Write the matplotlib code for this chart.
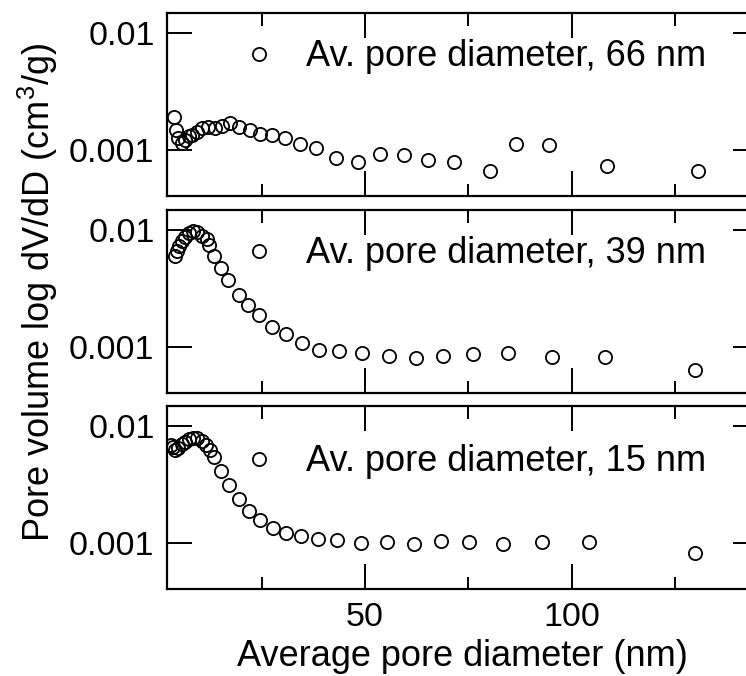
import numpy as np
import matplotlib
matplotlib.use('Agg')
import matplotlib.pyplot as plt
from matplotlib.ticker import NullLocator, MultipleLocator

plt.rcParams['font.family'] = ['Liberation Sans', 'DejaVu Sans']
plt.rcParams['mathtext.fontset'] = 'custom'
plt.rcParams['mathtext.rm'] = 'Liberation Sans'
plt.rcParams['mathtext.default'] = 'regular'

# 各样品的孔径分布 (nm, cm3/g)
d_66 = [3.8, 4.3, 4.8, 5.7, 6.5, 7.3, 8.2, 9.3, 10.5, 12.1, 13.7, 15.3, 17.3, 19.5,
        22.2, 24.6, 27.6, 30.7, 34.3, 38.1, 43.0, 48.2, 53.6, 59.4, 65.3, 71.4,
        80.1, 86.5, 94.4, 108.5, 130.5]
v_66 = [0.0019, 0.00148, 0.00126, 0.00114, 0.00122, 0.0013, 0.00134, 0.00141,
        0.00153, 0.00158, 0.00153, 0.0016, 0.0017, 0.00156, 0.00147, 0.00136,
        0.00134, 0.00126, 0.00112, 0.00103, 0.00085, 0.000785, 0.000924,
        0.000893, 0.00082, 0.000785, 0.00066, 0.00112, 0.0011, 0.00073, 0.00065]

d_39 = [4.0, 4.5, 5.0, 5.7, 6.5, 7.5, 8.5, 9.4, 10.5, 11.7, 12.3, 13.5, 15.2, 16.9,
        19.4, 21.8, 24.4, 27.6, 30.8, 34.7, 38.8, 43.6, 49.2, 55.7, 62.3, 68.8,
        76.0, 84.5, 95.2, 107.9, 129.7]
v_39 = [0.0060, 0.00665, 0.0073, 0.0081, 0.0088, 0.0094, 0.0099, 0.0097, 0.0089,
        0.0084, 0.0074, 0.0060, 0.0047, 0.00373, 0.00279, 0.00228, 0.00187,
        0.00148, 0.00129, 0.00107, 0.00094, 0.00091, 0.00088, 0.00083, 0.0008,
        0.00083, 0.00086, 0.00088, 0.00082, 0.00081, 0.000635]

d_15 = [3.0, 3.5, 4.0, 4.8, 5.7, 6.5, 7.5, 8.5, 9.4, 10.5, 11.5, 12.5, 13.5, 15.2,
        17.1, 19.5, 22.0, 24.6, 27.8, 30.9, 34.5, 38.7, 43.3, 49.0, 55.3, 61.9,
        68.3, 75.2, 83.3, 92.8, 104.2, 129.7]
v_15 = [0.00684, 0.0066, 0.0063, 0.00653, 0.00697, 0.00734, 0.00769, 0.0079,
        0.0079, 0.00744, 0.00684, 0.0062, 0.00543, 0.00411, 0.00312, 0.00239,
        0.00187, 0.00156, 0.00133, 0.00121, 0.00114, 0.00107, 0.00105, 0.001,
        0.00102, 0.00098, 0.00104, 0.00101, 0.00097, 0.00101, 0.00101, 0.00082]

series = [(d_66, v_66, 'Av. pore diameter, 66 nm'),
          (d_39, v_39, 'Av. pore diameter, 39 nm'),
          (d_15, v_15, 'Av. pore diameter, 15 nm')]

y_ticks = [0.001, 0.01]
y_ticklabels = ['0.001', '0.01']
x_ticks = [50, 100]

W, H = 746, 676
fig = plt.figure(figsize=(W / 100, H / 100), dpi=100)

left = 167 / W
width = 591 / W
height = 183 / H
bottoms = [1 - 196 / H, 1 - 393 / H, 1 - 589 / H]
leg_y = [0.76, 0.76, 0.694]

axes = []
for i, (d, v, lab) in enumerate(series):
    ax = fig.add_axes([left, bottoms[i], width, height])
    ax.plot(d, v, 'o', ls='none', mfc='none', mec='black', ms=9.5, mew=1.3, label=lab)
    ax.set_yscale('log')
    ax.set_xlim(2.1, 145)
    ax.set_ylim(4.0e-4, 0.0149)
    ax.set_yticks(y_ticks, y_ticklabels)
    ax.yaxis.set_minor_locator(NullLocator())
    ax.set_xticks(x_ticks)
    ax.xaxis.set_minor_locator(MultipleLocator(25))
    ax.tick_params(which='both', direction='in', top=True, right=True, width=1.4,
                   labelsize=24.5, pad=9)
    ax.tick_params(which='major', length=18)
    ax.tick_params(which='minor', length=9)
    if i < 2:
        ax.tick_params(labelbottom=False)
    for s in ax.spines.values():
        s.set_linewidth(1.6)
    ax.legend(loc='center left', bbox_to_anchor=((241 - 167) / 591, leg_y[i]),
              frameon=False, fontsize=26, handlelength=1.0, handletextpad=0.8,
              borderpad=0, borderaxespad=0, numpoints=1)
    axes.append(ax)

axes[2].set_xlabel('Average pore diameter (nm)', fontsize=26, labelpad=5)
fig.text(38 / W, 1 - 292 / H, 'Pore volume log dV/dD (cm$^{3}$/g)', rotation=90,
         ha='center', va='center', fontsize=26)

fig.savefig('out.png', dpi=100)
